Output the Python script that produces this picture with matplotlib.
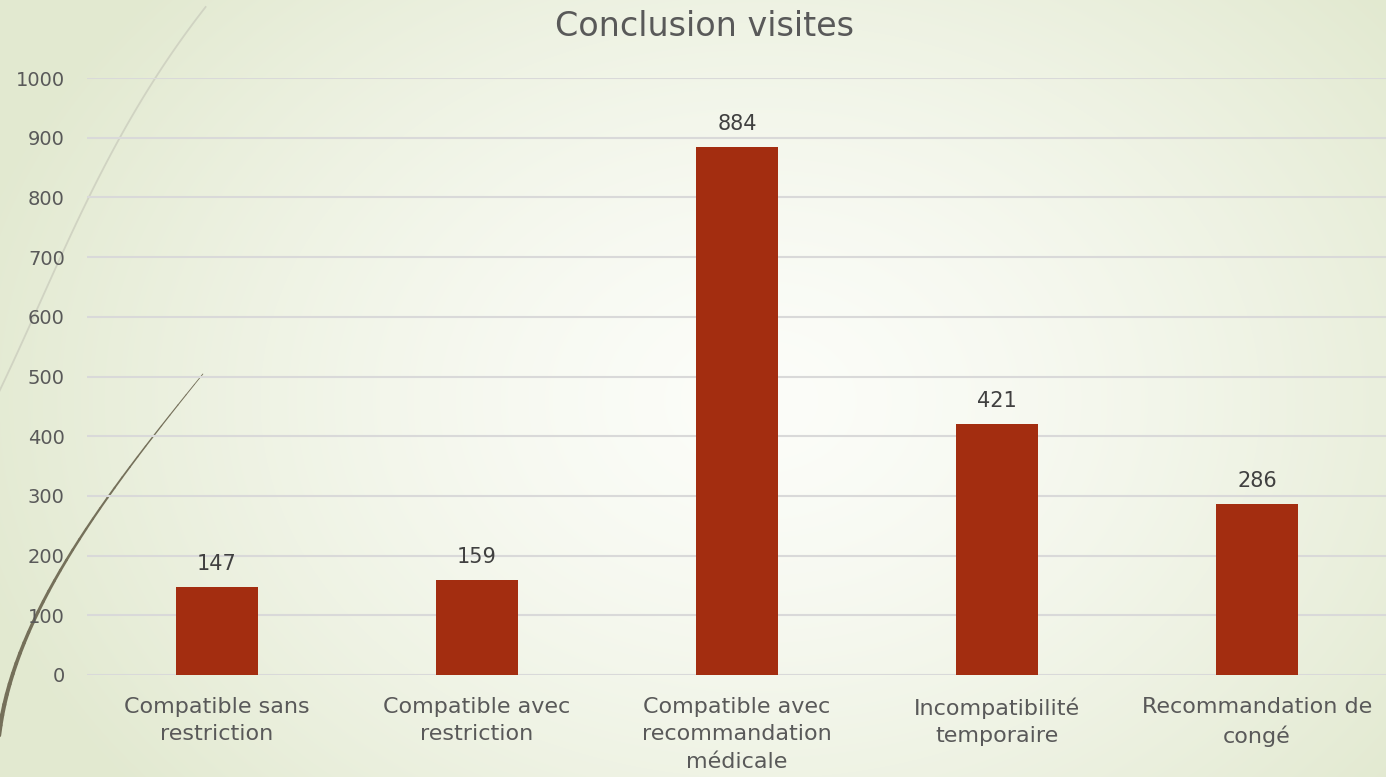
import numpy as np
import matplotlib
matplotlib.use('Agg')
import matplotlib.pyplot as plt

# Données du graphique
categories = ['Compatible sans\nrestriction', 'Compatible avec\nrestriction',
              'Compatible avec\nrecommandation\nmédicale', 'Incompatibilité\ntemporaire',
              'Recommandation de\ncongé']
visites = [147, 159, 884, 421, 286]
y_ticks = [0, 100, 200, 300, 400, 500, 600, 700, 800, 900, 1000]

plt.rcParams['font.family'] = ['DejaVu Sans']

W, H = 1386, 777
fig = plt.figure(figsize=(W / 100, H / 100), dpi=100)

# fond en dégradé radial (clair au centre, vert pâle aux bords)
yy, xx = np.mgrid[0:H, 0:W]
r = np.sqrt(((xx - 760) / 820.0) ** 2 + ((yy - 400) / 620.0) ** 2)
r = np.clip(r, 0, 1) ** 1.4
r = r[..., None]
centre = np.array([252, 253, 249]) / 255.0
bord = np.array([226, 233, 208]) / 255.0
img = centre * (1 - r) + bord * r
bg = fig.add_axes([0, 0, 1, 1], zorder=-2)
bg.imshow(img, aspect='auto', extent=[0, W, H, 0])
bg.set_xlim(0, W)
bg.set_ylim(H, 0)
bg.axis('off')

# courbes décoratives à gauche
cy = [7, 78, 138, 198, 267, 337, 389]
cx = [205, 157, 119, 87, 57, 25, 0]
p = np.polyfit(cy, cx, 3)
ys = np.linspace(7, 420, 100)
bg.plot(np.polyval(p, ys), ys, color='#d0d3c2', lw=1.3)

dy = [374, 436, 495, 554, 614, 673, 728]
dx = [203, 153, 110, 70, 37, 13, 0]
p2 = np.polyfit(dy, dx, 3)
ys2 = np.linspace(374, 777, 40)
xs2 = np.polyval(p2, ys2)
for i in range(len(ys2) - 1):
    bg.plot(xs2[i:i + 2], ys2[i:i + 2], color='#75705a',
            lw=0.6 + 3.0 * i / len(ys2), solid_capstyle='round')

ax = fig.add_axes([87 / W, 1 - 675 / H, 1300 / W, (675 - 78) / H])
ax.patch.set_alpha(0)
x = np.arange(len(categories))
bars = ax.bar(x, visites, width=0.315, color='#a32d10', zorder=3)

for xi, v in zip(x, visites):
    ax.text(xi, v + 22, str(v), ha='center', va='bottom', fontsize=15,
            color='#404040')

ax.set_xlim(-0.5, len(categories) - 0.5)
ax.set_ylim(0, 1000)
ax.set_yticks(y_ticks)
ax.yaxis.grid(True, color='#d9d9d9', lw=1.5, zorder=0)
ax.set_axisbelow(True)
for s in ax.spines.values():
    s.set_visible(False)
ax.tick_params(axis='both', length=0, labelsize=14, labelcolor='#595959')
ax.tick_params(axis='y', pad=16)
ax.set_xticks(x)
ax.set_xticklabels(categories, fontsize=16, linespacing=1.45)
ax.tick_params(axis='x', pad=16)

fig.text(0.508, 0.966, 'Conclusion visites', ha='center', va='center',
         fontsize=24, color='#595959')

fig.savefig('out.png', dpi=100)
